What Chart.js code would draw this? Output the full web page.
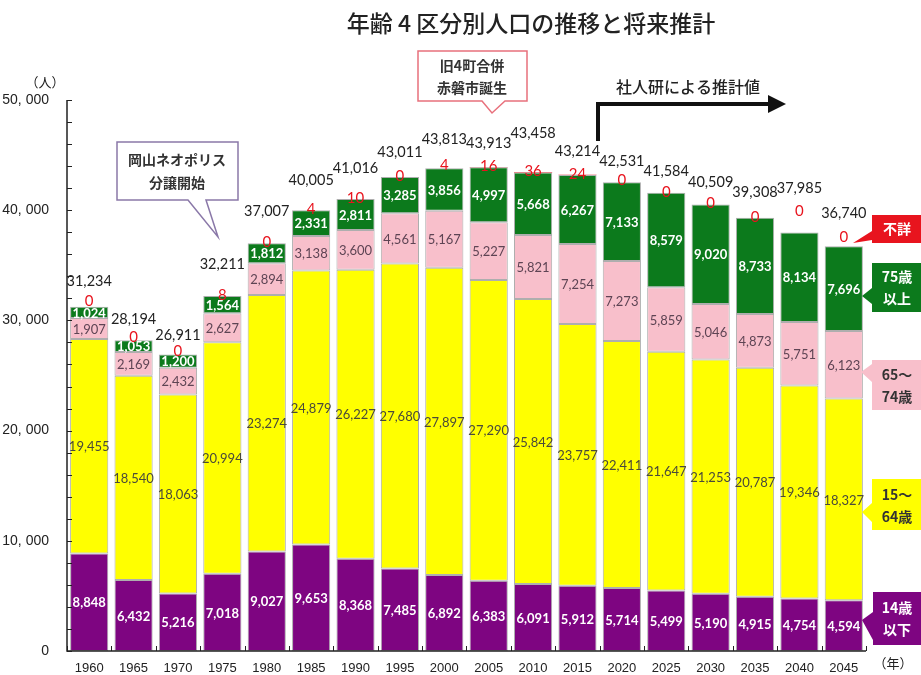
<!DOCTYPE html>
<html>
<head>
<meta charset="utf-8">
<script src="https://cdn.jsdelivr.net/npm/chart.js@4.4.0/dist/chart.umd.min.js"></script>
<style>
html,body{margin:0;padding:0;background:#fff;}
#wrap{width:921px;height:675px;position:relative;}
</style>
</head>
<body>
<div id="wrap"><canvas id="c" width="921" height="675"></canvas></div>
<script>
// ---- data ----
const years = ['1960','1965','1970','1975','1980','1985','1990','1995','2000','2005','2010','2015','2020','2025','2030','2035','2040','2045'];
const age0_14 = [8848,6432,5216,7018,9027,9653,8368,7485,6892,6383,6091,5912,5714,5499,5190,4915,4754,4594];
const age15_64 = [19455,18540,18063,20994,23274,24879,26227,27680,27897,27290,25842,23757,22411,21647,21253,20787,19346,18327];
const age65_74 = [1907,2169,2432,2627,2894,3138,3600,4561,5167,5227,5821,7254,7273,5859,5046,4873,5751,6123];
const age75plus = [1024,1053,1200,1564,1812,2331,2811,3285,3856,4997,5668,6267,7133,8579,9020,8733,8134,7696];
const unknown = [0,0,0,8,0,4,10,0,4,16,36,24,0,0,0,0,0,0];
const totals = [31234,28194,26911,32211,37007,40005,41016,43011,43813,43913,43458,43214,42531,41584,40509,39308,37985,36740];
const yTicks = [0,10000,20000,30000,40000,50000];

// ---- styles ----
const C_PURPLE = '#7e0581', C_YELLOW = '#ffff00', C_PINK = '#f8bfcb', C_GREEN = '#0c7a1c', C_RED = '#e8141e';
const NUM_FONT = '"Lato", "Liberation Sans", sans-serif';
const JP_FONT = '"Noto Sans CJK JP", sans-serif';
const totalLift = [25,21,19,32,32,30,31,25,29,24,39,23,21,21,22,25,44,33];
const redLift = [6,3,3,1,1,1,1,1,3,1,1,1,2,1,1,1,21,9];

const fmt = v => v.toLocaleString('en-US');

const labelsPlugin = {
  id: 'labels',
  afterDatasetsDraw(chart) {
    const ctx = chart.ctx;
    ctx.save();
    ctx.textAlign = 'center';
    ctx.textBaseline = 'middle';
    const styles = [
      {color:'#ffffff', font:'bold 13px ' + NUM_FONT},
      {color:'#4a4a3a', font:'13px ' + NUM_FONT},
      {color:'#5e4454', font:'13px ' + NUM_FONT},
      {color:'#ffffff', font:'bold 13px ' + NUM_FONT}
    ];
    for (let d = 0; d < 4; d++) {
      const meta = chart.getDatasetMeta(d);
      const vals = chart.data.datasets[d].data;
      meta.data.forEach((el, i) => {
        ctx.fillStyle = styles[d].color;
        ctx.font = styles[d].font;
        ctx.fillText(fmt(vals[i]), el.x, (el.y + el.base) / 2 + 1);
      });
    }
    const metaTop = chart.getDatasetMeta(4);
    metaTop.data.forEach((el, i) => {
      const top = Math.min(el.y, el.base);
      ctx.fillStyle = C_RED;
      ctx.font = '15px ' + NUM_FONT;
      ctx.fillText(fmt(unknown[i]), el.x, top - redLift[i]);
      ctx.fillStyle = '#222';
      ctx.font = '14.5px ' + NUM_FONT;
      ctx.fillText(fmt(totals[i]), el.x, top - totalLift[i]);
    });
    ctx.restore();
  }
};

function poly(ctx, pts, fill, stroke, lw) {
  ctx.beginPath();
  ctx.moveTo(pts[0][0], pts[0][1]);
  for (let k = 1; k < pts.length; k++) ctx.lineTo(pts[k][0], pts[k][1]);
  ctx.closePath();
  if (fill) { ctx.fillStyle = fill; ctx.fill(); }
  if (stroke) { ctx.strokeStyle = stroke; ctx.lineWidth = lw; ctx.stroke(); }
}

const decorPlugin = {
  id: 'decor',
  afterDraw(chart) {
    const ctx = chart.ctx;
    const xs = chart.scales.x, ys = chart.scales.y;
    const area = chart.chartArea;
    ctx.save();
    // axes
    ctx.strokeStyle = '#222';
    ctx.lineWidth = 1.5;
    ctx.beginPath();
    ctx.moveTo(area.left, ys.getPixelForValue(50000));
    ctx.lineTo(area.left, ys.getPixelForValue(0));
    ctx.lineTo(area.right, ys.getPixelForValue(0));
    ctx.stroke();
    ctx.lineWidth = 1;
    for (let v = 0; v <= 50000; v += 2000) {
      const py = Math.round(ys.getPixelForValue(v)) + 0.5;
      ctx.beginPath(); ctx.moveTo(area.left, py); ctx.lineTo(area.left + 5, py); ctx.stroke();
    }
    const step = (xs.getPixelForValue(1) - xs.getPixelForValue(0));
    for (let i = 0; i <= years.length; i++) {
      const px = Math.round(xs.getPixelForValue(0) - step / 2 + i * step) + 0.5;
      const by = ys.getPixelForValue(0);
      ctx.beginPath(); ctx.moveTo(px, by); ctx.lineTo(px, by - 5); ctx.stroke();
    }
    // units
    ctx.fillStyle = '#222';
    ctx.font = '13px ' + JP_FONT;
    ctx.textAlign = 'center'; ctx.textBaseline = 'middle';
    ctx.fillText('（人）', 45, 82);
    ctx.fillText('（年）', 893, 663);
    // title
    ctx.font = '500 23px ' + JP_FONT;
    ctx.fillStyle = '#222';
    ctx.fillText('年齢 4 区分別人口の推移と将来推計', 531, 23);

    // callout 1
    poly(ctx, [[117,142],[238,142],[238,200],[206,200],[218,237],[188,200],[117,200]], '#fff', '#8a78a8', 1.5);
    ctx.fillStyle = '#333';
    ctx.font = 'bold 14px ' + JP_FONT;
    ctx.fillText('岡山ネオポリス', 177, 160);
    ctx.fillText('分譲開始', 177, 183);
    // callout 2
    poly(ctx, [[418,51],[527,51],[527,101],[505,101],[492,113],[482,101],[418,101]], '#fff', '#e8707c', 1.5);
    ctx.fillStyle = '#333';
    ctx.fillText('旧4町合併', 472, 66);
    ctx.fillText('赤磐市誕生', 472, 88);
    // projection arrow
    ctx.strokeStyle = '#111';
    ctx.lineWidth = 4;
    ctx.beginPath();
    ctx.moveTo(598, 141); ctx.lineTo(598, 104); ctx.lineTo(770, 104);
    ctx.stroke();
    poly(ctx, [[768,95],[786,104],[768,113]], '#111', null, 0);
    ctx.fillStyle = '#222';
    ctx.font = '500 16px ' + JP_FONT;
    ctx.fillText('社人研による推計値', 688, 87);

    // right legend boxes
    const R = 921;
    poly(ctx, [[872,215],[R,215],[R,243],[872,243],[872,240],[853,243],[872,231]], C_RED, null, 0);
    poly(ctx, [[872,263],[R,263],[R,312],[872,312],[872,304],[862,296],[872,288]], C_GREEN, null, 0);
    poly(ctx, [[872,360],[R,360],[R,410],[872,410],[872,382],[861,372],[872,364]], C_PINK, null, 0);
    poly(ctx, [[872,479],[R,479],[R,530],[872,530],[872,522],[862,512],[872,503]], C_YELLOW, null, 0);
    poly(ctx, [[873,592],[R,592],[R,645],[873,645],[873,640],[862,620],[873,612]], C_PURPLE, null, 0);
    ctx.font = 'bold 14px ' + JP_FONT;
    ctx.fillStyle = '#fff';
    ctx.fillText('不詳', 897, 229);
    ctx.fillText('75歳', 897, 277);
    ctx.fillText('以上', 897, 299);
    ctx.fillStyle = '#333';
    ctx.fillText('65～', 897, 375);
    ctx.fillText('74歳', 897, 397);
    ctx.fillText('15～', 897, 495);
    ctx.fillText('64歳', 897, 517);
    ctx.fillStyle = '#fff';
    ctx.fillText('14歳', 897, 608);
    ctx.fillText('以下', 897, 630);
    ctx.restore();
  }
};

const border = 'rgba(140,140,140,0.7)';
const mk = (label, data, color) => ({label, data, backgroundColor: color, borderColor: border, borderWidth: 1, borderSkipped: false});

new Chart(document.getElementById('c'), {
  type: 'bar',
  data: {
    labels: years,
    datasets: [
      mk('14歳以下', age0_14, C_PURPLE),
      mk('15～64歳', age15_64, C_YELLOW),
      mk('65～74歳', age65_74, C_PINK),
      mk('75歳以上', age75plus, C_GREEN),
      {label:'不詳', data: unknown, backgroundColor: C_RED, borderWidth: 0}
    ]
  },
  options: {
    responsive: false,
    animation: false,
    layout: {padding: {top: 100, right: 55, left: 0, bottom: 0}},
    plugins: {legend: {display: false}, tooltip: {enabled: false}, title: {display: false}},
    datasets: {bar: {categoryPercentage: 1.0, barPercentage: 0.86}},
    scales: {
      x: {
        stacked: true,
        grid: {display: false}, border: {display: false},
        ticks: {color: '#222', font: {size: 13, family: '"Liberation Sans", sans-serif'}, padding: 2, maxRotation: 0},
        afterFit: s => { s.height = 24; }
      },
      y: {
        stacked: true, min: 0, max: 50000,
        afterBuildTicks: s => { s.ticks = yTicks.map(v => ({value: v})); },
        grid: {display: false}, border: {display: false},
        ticks: {color: '#222', font: {size: 14, family: '"Liberation Sans", sans-serif'}, padding: 10,
          callback: v => fmt(v).replace(',', ', ')},
        afterFit: s => { s.width = 67; }
      }
    }
  },
  plugins: [labelsPlugin, decorPlugin]
});
</script>
</body>
</html>
